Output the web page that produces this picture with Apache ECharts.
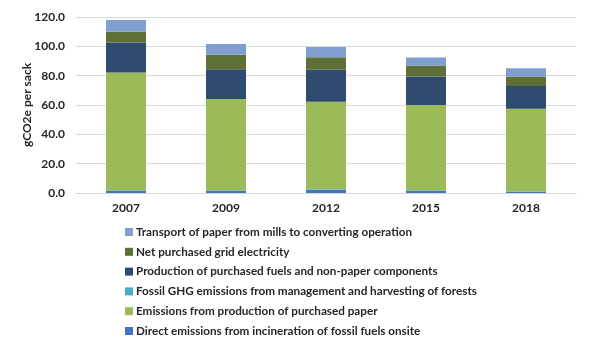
<!DOCTYPE html>
<html>
<head>
<meta charset="utf-8">
<script src="https://cdn.jsdelivr.net/npm/echarts@6/dist/echarts.min.js"></script>
<style>html,body{margin:0;padding:0;background:#fff}#c{width:600px;height:350px}</style>
</head>
<body>
<div id="c"></div>
<script>
const categories = ['2007', '2009', '2012', '2015', '2018'];
const directEmissions = [1.5, 1.5, 2.2, 1.5, 0.9];
const fossilForests = [0.3, 0.3, 0.3, 0.3, 0.3];
const purchasedPaper = [80.4, 62.3, 59.7, 58.2, 56.3];
const fuelsComponents = [20.4, 20.3, 22.0, 19.5, 15.4];
const gridElectricity = [7.4, 9.8, 8.4, 7.5, 6.6];
const transportPaper = [7.9, 7.4, 7.0, 5.4, 5.6];
const yTicks = [0, 20, 40, 60, 80, 100, 120];

const names = {
  direct: 'Direct emissions from incineration of fossil fuels onsite',
  paper: 'Emissions from production of purchased paper',
  fossil: 'Fossil GHG emissions from management and harvesting of forests',
  fuels: 'Production of purchased fuels and non-paper components',
  grid: 'Net purchased grid electricity',
  transport: 'Transport of paper from mills to converting operation'
};
const font = 'Lato';
function s(name, data, color) {
  return { name, type: 'bar', stack: 'a', data, barWidth: 40, itemStyle: { color } };
}
const chart = echarts.init(document.getElementById('c'));
chart.setOption({
  animation: false,
  textStyle: { fontFamily: font },
  grid: { left: 76, right: 24, top: 17, bottom: 157 },
  xAxis: {
    type: 'category', data: categories,
    axisLine: { lineStyle: { color: '#d9d9d9' } },
    axisTick: { show: false },
    axisLabel: { color: '#262626', fontSize: 12, fontWeight: 'bold', fontFamily: font, margin: 9 }
  },
  yAxis: {
    type: 'value', min: yTicks[0], max: yTicks[yTicks.length - 1], interval: 20,
    name: 'gCO2e per sack', nameLocation: 'middle', nameGap: 43, nameMoveOverlap: false,
    nameTextStyle: { color: '#262626', fontSize: 12, fontWeight: 'bold', fontFamily: font },
    axisLine: { show: false }, axisTick: { show: false },
    splitLine: { lineStyle: { color: '#d9d9d9' } },
    axisLabel: { color: '#262626', fontSize: 12, fontWeight: 'bold', fontFamily: font, margin: 11,
      formatter: v => v.toFixed(1) }
  },
  legend: {
    orient: 'vertical', left: 120, top: 221,
    itemWidth: 8, itemHeight: 8, itemGap: 7.8,
    icon: 'rect',
    textStyle: { color: '#262626', fontSize: 11.7, fontWeight: 'bold', fontFamily: font, lineHeight: 12, padding: [0, 0, 0, -2] },
    data: [names.transport, names.grid, names.fuels, names.fossil, names.paper, names.direct]
  },
  series: [
    s(names.direct, directEmissions, '#4472c4'),
    s(names.fossil, fossilForests, '#4bacc6'),
    s(names.paper, purchasedPaper, '#9bbb59'),
    s(names.fuels, fuelsComponents, '#2f4a6f'),
    s(names.grid, gridElectricity, '#5f7037'),
    s(names.transport, transportPaper, '#7f9fd0')
  ]
});
</script>
</body>
</html>
